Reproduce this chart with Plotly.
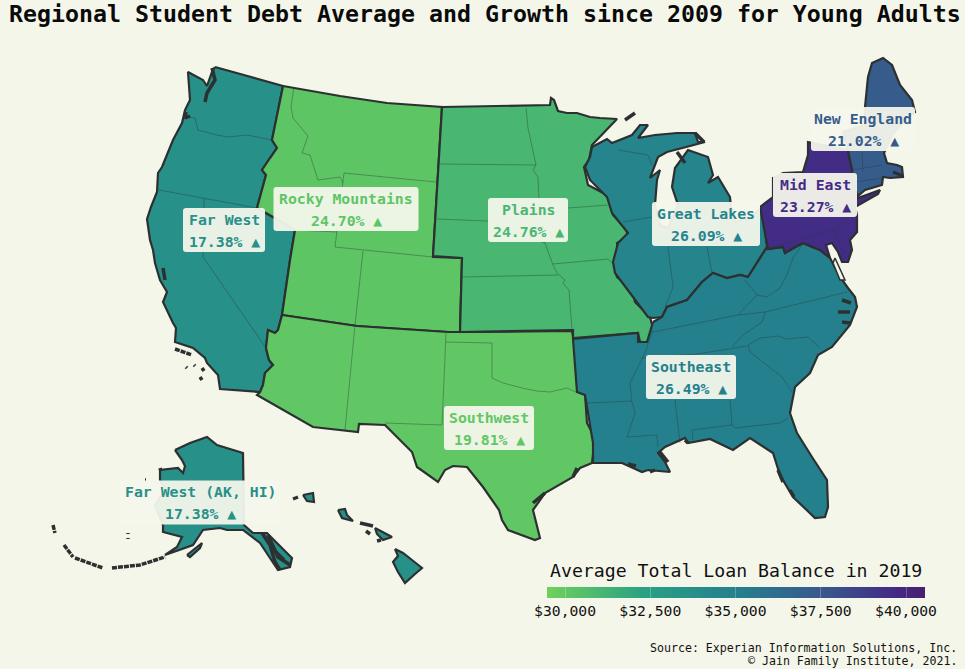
import plotly.graph_objects as go
from plotly.colors import sample_colorscale

# values, everything is drawn on a 965x669 pixel grid
regionNames = ["Far West", "Rocky Mountains", "Southwest", "Plains", "Great Lakes", "Southeast", "Mid East", "New England"]
regionBalance = [33700, 30150, 30050, 31000, 34700, 35000, 39600, 37300]
regionGrowth = [17.38, 24.70, 19.81, 24.76, 26.09, 26.49, 23.27, 21.02]

balanceMin = 29470
balanceMax = 40557
tickValues = [30000, 32500, 35000, 37500, 40000]
tickLabels = ["$30,000", "$32,500", "$35,000", "$37,500", "$40,000"]
colorStops = [[0, "#6fd15c"], [0.25, "#2aa282"], [0.5, "#25808e"], [0.75, "#3a548c"], [0.92, "#432a85"], [1, "#47206f"]]

farWestLine = [(215,67),(250,77),(283,86),(272,140),(277,148),(270,158),(262,170),(266,175),(257,208),(273,217),(295,230),(290,260),(282,315),
    (278,330),(275,333),(268,330),(266,348),(269,360),(273,365),(265,373),(263,385),(260,392),(220,389),(218,375),(207,363),(205,358),(193,348),
    (175,342),(176,328),(173,323),(163,302),(167,292),(160,280),(155,263),(153,250),(150,240),(147,219),(151,207),(157,192),(158,173),(162,167),(173,140),
    (182,123),(185,110),(190,100),(188,72),(203,80),(207,86),(212,72)]
rockyLine = [(283,86),(340,96),(387,103),(442,107),(433,257),(462,258),(460,332),(448,332),(357,326),(282,315),(290,260),(295,230),(273,217),
    (257,208),(266,175),(262,170),(270,158),(277,148),(272,140)]
southwestLine = [(282,315),(357,326),(448,332),(460,332),(572,331),(577,357),(578,392),(585,394),(587,423),(595,438),(592,463),(580,468),(573,477),
    (545,493),(533,510),(537,527),(540,538),(535,540),(522,535),(508,530),(502,520),(499,510),(483,487),(467,467),(453,466),(445,470),(438,482),(417,467),
    (412,452),(385,425),(359,424),(358,432),(313,427),(257,395),(260,392),(263,385),(265,373),(273,365),(269,360),(266,348),(268,330),(275,333),(278,330)]
plainsLine = [(442,107),(550,105),(551,98),(554,100),(558,111),(567,113),(577,113),(590,117),(600,118),(617,119),(592,145),(589,160),(584,167),(588,185),(607,195),
    (613,215),(627,230),(627,237),(617,243),(618,250),(615,267),(617,277),(632,288),(635,302),(650,317),(653,328),(648,342),(640,342),
    (638,333),(573,338),(573,330),(460,332),(462,258),(433,256)]
greatLakesLine = [(592,147),(607,139),(612,143),(632,135),(640,125),(648,125),(638,138),(655,135),(677,133),(695,133),(698,142),(705,142),
    (690,146),(667,152),(658,157),(650,178),(660,170),(657,180),(655,205),(660,225),(668,228),(678,205),(672,187),(675,168),(688,150),
    (708,157),(713,175),(708,183),(718,177),(730,197),(731,207),(735,222),(750,218),(762,207),(767,247),(757,263),(748,277),(740,275),
    (727,278),(713,273),(702,282),(687,300),(667,307),(662,317),(653,318),(648,317),(633,297),(627,288),(615,273),(613,262),(618,243),
    (628,233),(612,213),(607,197),(590,180),(585,167),(590,157)]
southeastLine = [(653,322),(662,317),(667,307),(687,300),(702,282),(713,273),(727,278),(740,275),(748,277),(757,263),(767,247),(768,249),(783,247),
    (785,253),(795,247),(803,243),(812,247),(820,250),(830,258),(840,277),(848,288),(855,297),(857,307),(850,325),(832,347),(818,355),
    (810,373),(795,387),(790,413),(797,433),(812,457),(827,480),(828,507),(825,517),(815,518),(793,497),(780,475),(773,453),(750,438),
    (733,450),(710,439),(688,443),(685,438),(665,447),(658,453),(665,462),(670,472),(658,471),(648,470),(642,472),(622,463),(600,463),(593,463),
    (593,443),(585,395),(577,392),(573,339),(638,333),(638,342),(647,342)]
midEastLine = [(760,207),(773,197),(773,178),(783,173),(803,172),(808,155),(808,142),(848,150),(852,170),(855,190),(858,198),(880,190),(878,194),(855,207),(857,215),
    (857,232),(850,240),(852,250),(848,262),(842,262),(838,252),(832,243),(826,245),(830,258),(820,250),(812,247),(803,243),(795,247),
    (785,253),(783,247),(768,249)]
newEnglandLine = [(848,150),(843,132),(865,125),(865,107),(868,77),(872,63),(883,58),(892,65),(900,85),(912,100),(915,112),(905,120),(892,135),
    (884,153),(887,163),(897,165),(902,167),(903,177),(890,178),(883,177),(882,185),(865,190),(858,196),(855,190),(852,170)]
regionLines = [farWestLine, rockyLine, southwestLine, plainsLine, greatLakesLine, southeastLine, midEastLine, newEnglandLine]

# far west again: Alaska and Hawaii
islandLines = [
    [(175,450),(190,443),(207,437),(217,445),(243,453),(244,525),(253,533),(267,533),(292,558),(290,567),(278,570),(260,543),(243,530),(227,530),(220,528),
     (203,530),(193,545),(165,555),(177,547),(182,537),(163,532),(163,525),(155,505),(165,490),(160,480),(160,470),(178,468),(183,473),(185,466),(182,460)],
    [(187,555),(202,543),(200,548),(190,557)],
    [(395,549),(403,553),(412,560),(422,568),(415,574),(408,580),(405,583),(398,572),(393,562),(398,556)],
    [(375,528),(383,532),(392,537),(383,540),(377,534)],
    [(338,510),(345,509),(347,515),(353,521),(342,518)],
    [(303,495),(313,493),(314,502),(307,501)],
]

# thin state borders inside a region
stateLines = [
    [(185,117),(195,118),(198,130),(217,135),(228,137),(247,135),(272,140)],
    [(159,190),(257,208)],
    [(204,198),(203,257),(266,348)],
    [(294,87),(291,107),(293,118),(308,136),(302,153),(310,155),(318,180),(340,177),(343,183)],
    [(344,173),(436,182)],
    [(344,173),(335,247),(433,257)],
    [(295,230),(337,232)],
    [(363,251),(355,325),(345,430)],
    [(446,333),(442,425),(385,423)],
    [(446,342),(492,343),(492,378),(503,383),(522,388),(537,391),(550,392),(567,388),(578,393)],
    [(526,108),(528,128),(536,165),(533,170),(538,177),(539,200),(545,243),(553,265),(557,273),(565,280),(563,283),(569,290),(572,330)],
    [(440,164),(536,165)],
    [(437,219),(487,221),(545,243)],
    [(568,208),(608,205)],
    [(462,277),(558,275)],
    [(553,264),(608,259),(612,263)],
    [(618,150),(648,155),(652,165)],
    [(623,222),(652,217)],
    [(668,247),(673,287),(665,307)],
    [(707,247),(712,273)],
    [(745,280),(757,295),(767,297),(780,288),(787,275),(793,258),(802,245)],
    [(757,295),(738,315)],
    [(653,332),(738,315),(765,312),(847,292)],
    [(765,312),(762,322),(743,335),(732,347)],
    [(642,358),(697,354),(747,346)],
    [(653,330),(645,353),(630,383),(632,402),(635,413),(627,437),(657,435),(658,447)],
    [(587,403),(632,401)],
    [(675,400),(680,443)],
    [(730,400),(732,425)],
    [(692,430),(693,440)],
    [(692,430),(732,425),(735,428),(780,423),(788,418)],
    [(750,352),(748,345),(760,338),(778,336),(787,339),(808,337),(820,348)],
    [(750,352),(782,377),(792,392)],
    [(862,152),(863,172)],
    [(852,170),(882,165)],
    [(855,182),(883,178)],
    [(768,248),(835,230),(843,223),(848,217)],
    [(835,230),(842,252),(852,252)],
]

# small islands and busy coasts that only read as dark strokes
darkLines = [
    [(212,68),(215,80),(207,93),(205,102)],
    [(186,112),(185,118),(190,116)],
    [(163,268),(165,280)],
    [(262,533),(270,545),(275,562),(280,570)],
    [(268,535),(278,557),(290,565)],
    [(272,548),(284,560)],
    [(128,533),(128,534)],
    [(128,538),(128,539)],
    [(145,480),(146,480)],
    [(160,468),(161,471)],
    [(293,499),(298,497)],
    [(360,523),(373,526)],
    [(366,531),(370,534)],
    [(377,541),(381,540)],
    [(186,367),(187,368)],
    [(194,365),(195,366)],
    [(202,368),(204,371)],
    [(200,377),(202,380)],
    [(625,120),(635,113)],
    [(677,152),(685,163)],
    [(695,133),(704,142)],
    [(573,477),(577,468)],
    [(533,503),(545,493)],
    [(778,470),(783,482)],
    [(790,490),(794,497)],
    [(842,300),(851,303)],
    [(838,312),(850,312)],
    [(842,322),(850,323)],
    [(660,452),(668,462)],
    [(628,464),(636,466)],
    [(650,472),(655,470)],
    [(685,440),(688,443)],
    [(893,172),(903,176)],
]
# aleutian chain and channel islands, broken up
dottedLines = [
    [(53,525),(55,533)],
    [(64,545),(73,557)],
    [(75,558),(103,568)],
    [(112,568),(140,565),(165,557)],
    [(175,349),(192,355)],
]
bayLine = [(835,258),(845,280),(840,280),(833,263)]

# label anchor, box width
labelX = [224, 346, 489, 528, 706, 691, 815, 863, 200]
labelY = [230, 209, 428, 220, 224, 377, 195, 129, 502.5]
labelW = [82, 145, 90, 80, 108, 90, 84, 104, 160]
labelRegion = [0, 1, 2, 3, 4, 5, 6, 7, 0]
labelText = ["Far West", "Rocky Mountains", "Southwest", "Plains", "Great Lakes", "Southeast", "Mid East", "New England", "Far West (AK, HI)"]

pageColor = "#f5f6ea"
edgeColor = "#2c3030"
thinColor = "rgba(45,55,55,0.5)"
monoFont = "DejaVu Sans Mono"


def balanceColor(balance):
    return sample_colorscale(colorStops, [(balance - balanceMin) / (balanceMax - balanceMin)])[0]


def closed(line):
    return line + [line[0]]


def addPolygon(fig, line, fill, width=2.2, color=edgeColor):
    ring = closed(line)
    fig.add_trace(go.Scatter(x=[p[0] for p in ring], y=[p[1] for p in ring], mode="lines", fill="toself",
                             fillcolor=fill, line=dict(color=color, width=width), hoverinfo="skip", showlegend=False))


def addStrokes(fig, lines, color, width, dash="solid"):
    xs = []
    ys = []
    for line in lines:
        xs += [p[0] for p in line] + [None]
        ys += [p[1] for p in line] + [None]
    fig.add_trace(go.Scatter(x=xs, y=ys, mode="lines", line=dict(color=color, width=width, dash=dash),
                             hoverinfo="skip", showlegend=False))


def boxPath(x0, y0, x1, y1, r=3):
    return (f"M{x0+r},{y0} L{x1-r},{y0} Q{x1},{y0} {x1},{y0+r} L{x1},{y1-r} Q{x1},{y1} {x1-r},{y1} "
            f"L{x0+r},{y1} Q{x0},{y1} {x0},{y1-r} L{x0},{y0+r} Q{x0},{y0} {x0+r},{y0} Z")


def main():
    fig = go.Figure()

    for line, balance in zip(regionLines, regionBalance):
        addPolygon(fig, line, balanceColor(balance))
    for line in islandLines:
        addPolygon(fig, line, balanceColor(regionBalance[0]))
    addStrokes(fig, stateLines, thinColor, 0.8)
    addStrokes(fig, darkLines, edgeColor, 3.5)
    addStrokes(fig, dottedLines, edgeColor, 3.5, dash="5px,1px")
    addPolygon(fig, bayLine, pageColor, width=1.5)

    # colorbar comes from an invisible marker trace
    fig.add_trace(go.Scatter(x=[None], y=[None], mode="markers", hoverinfo="skip", showlegend=False,
        marker=dict(color=[balanceMin], cmin=balanceMin, cmax=balanceMax, colorscale=colorStops, showscale=True,
            colorbar=dict(orientation="h", lenmode="pixels", len=378, thickness=11, x=736/965, xanchor="center",
                          y=1-587/669, yanchor="top", xpad=0, ypad=0, outlinewidth=0, tickvals=tickValues, ticktext=tickLabels,
                          ticks="inside", ticklen=11, tickcolor="rgba(255,255,255,0.25)", tickwidth=1,
                          tickfont=dict(family=monoFont, size=14.7, color="#111111")))))

    shapes = []
    annotations = []
    for i, name in enumerate(labelText):
        color = balanceColor(regionBalance[labelRegion[i]])
        growth = regionGrowth[labelRegion[i]]
        x = labelX[i]
        y = labelY[i]
        w = labelW[i]
        shapes.append(dict(type="path", path=boxPath(x - w/2, y - 22, x + w/2, y + 22), xref="x", yref="y", layer="above",
                           fillcolor="rgba(245,247,236,0.94)", line=dict(width=0)))
        for text, dy in [(f"<b>{name}</b>", -11), (f"<b>{growth:.2f}% ▲</b>", 11)]:
            annotations.append(dict(x=x, y=y + dy, xref="x", yref="y", text=text, showarrow=False,
                                    font=dict(family=monoFont, size=14.8, color=color)))

    annotations.append(dict(x=484.5, y=13.5, xref="x", yref="y", showarrow=False,
                            text="<b>Regional Student Debt Average and Growth since 2009 for Young Adults</b>",
                            font=dict(family=monoFont, size=23.25, color="#0a0a0a")))
    annotations.append(dict(x=735.5, y=570, xref="x", yref="y", showarrow=False, text="Average Total Loan Balance in 2019",
                            font=dict(family=monoFont, size=18.2, color="#111111")))
    for text, y in [("Source: Experian Information Solutions, Inc.", 648), ("© Jain Family Institute, 2021.", 661)]:
        annotations.append(dict(x=959, y=y, xref="x", yref="y", xanchor="right", showarrow=False, text=text,
                                font=dict(family=monoFont, size=11.6, color="#111111")))

    fig.update_xaxes(range=[0, 965], visible=False, fixedrange=True)
    fig.update_yaxes(range=[669, 0], visible=False, fixedrange=True)
    fig.update_layout(width=965, height=669, margin=dict(l=0, r=0, t=0, b=0, autoexpand=False),
                      paper_bgcolor=pageColor, plot_bgcolor=pageColor, shapes=shapes, annotations=annotations)
    fig.write_html("out.html", config=dict(displayModeBar=False),
                   post_script="document.body.style.margin='0';document.body.style.overflow='hidden';")


if __name__ == "__main__":
    main()
